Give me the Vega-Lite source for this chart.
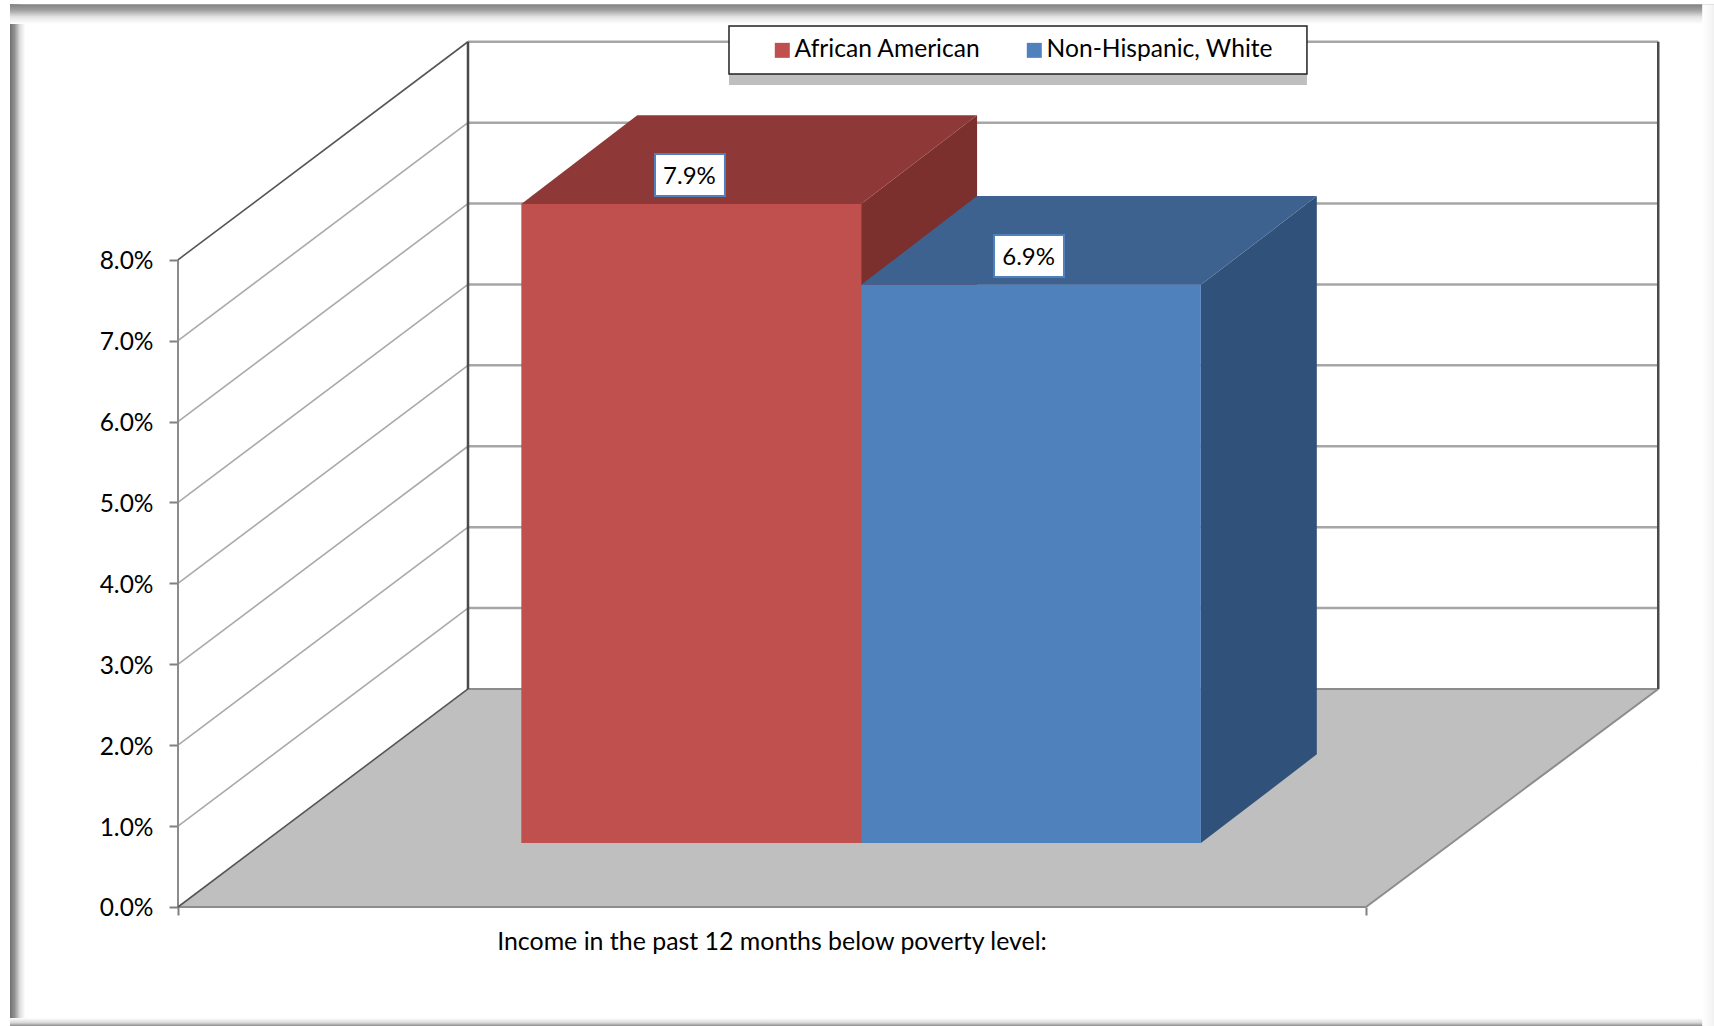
{
"$schema":"https://vega.github.io/schema/vega-lite/v6.json",
"width":1714,"height":1026,"padding":0,"autosize":"none","background":"white",
"config":{"view":{"stroke":null},"font":"Lato",
"legend":{"title":null,"orient":"none","legendX":770,"legendY":38,"direction":"horizontal","columns":2,"columnPadding":41,"symbolType":"square","symbolSize":225,"symbolStrokeWidth":0,"labelFont":"Lato","labelFontSize":24.6,"labelColor":"#000000","labelOffset":0,"labelLimit":400,"padding":0,"zindex":1}},
"datasets":{
"frame":[
{"side":"left","x":-14.14,"x2":-12.85,"y":11.16,"y2":-1.471},
{"side":"top","x":-14.14,"x2":129.293,"y":11.16,"y2":10.915},
{"side":"bottom","x":-14.14,"x2":129.293,"y":-1.372,"y2":-1.471},
{"side":"right","x":128.3,"x2":129.293,"y":11.16,"y2":-1.471}
],
"lines":[
{"kind":"back","x":24.41,"x2":124.6,"y":3.695,"y2":3.695},
{"kind":"back","x":24.41,"x2":124.6,"y":4.695,"y2":4.695},
{"kind":"back","x":24.41,"x2":124.6,"y":5.695,"y2":5.695},
{"kind":"back","x":24.41,"x2":124.6,"y":6.695,"y2":6.695},
{"kind":"back","x":24.41,"x2":124.6,"y":7.695,"y2":7.695},
{"kind":"back","x":24.41,"x2":124.6,"y":8.695,"y2":8.695},
{"kind":"back","x":24.41,"x2":124.6,"y":9.695,"y2":9.695},
{"kind":"back","x":24.41,"x2":124.6,"y":10.695,"y2":10.695},
{"kind":"side","x":0,"x2":24.41,"y":1,"y2":3.695},
{"kind":"side","x":0,"x2":24.41,"y":2,"y2":4.695},
{"kind":"side","x":0,"x2":24.41,"y":3,"y2":5.695},
{"kind":"side","x":0,"x2":24.41,"y":4,"y2":6.695},
{"kind":"side","x":0,"x2":24.41,"y":5,"y2":7.695},
{"kind":"side","x":0,"x2":24.41,"y":6,"y2":8.695},
{"kind":"side","x":0,"x2":24.41,"y":7,"y2":9.695},
{"kind":"axis","x":0,"x2":0,"y":0,"y2":8},
{"kind":"edge","x":0,"x2":100,"y":0,"y2":0},
{"kind":"edge","x":100,"x2":124.6,"y":0,"y2":2.695},
{"kind":"edge","x":24.41,"x2":124.6,"y":2.695,"y2":2.695},
{"kind":"dark","x":0,"x2":24.41,"y":0,"y2":2.695},
{"kind":"dark","x":0,"x2":24.41,"y":8,"y2":10.695},
{"kind":"wall","x":24.41,"x2":24.41,"y":2.695,"y2":10.695},
{"kind":"wall","x":124.6,"x2":124.6,"y":2.695,"y2":10.695}
],
"floor":[
{"y":0,"x":0,"x2":100},
{"y":2.695,"x":24.41,"x2":124.6}
],
"sides":[
{"face":"African American side","x":57.5,"y":0.79,"y2":8.69},
{"face":"African American side","x":67.26,"y":1.887,"y2":9.787},
{"face":"Non-Hispanic, White side","x":86.1,"y":0.79,"y2":7.69},
{"face":"Non-Hispanic, White side","x":95.86,"y":1.887,"y2":8.787}
],
"tops":[
{"face":"African American top","y":8.69,"x":28.9,"x2":57.5},
{"face":"African American top","y":9.787,"x":38.66,"x2":67.26},
{"face":"Non-Hispanic, White top","y":7.69,"x":57.5,"x2":86.1},
{"face":"Non-Hispanic, White top","y":8.787,"x":67.26,"x2":95.86}
],
"fronts":[
{"face":"African American","x":28.9,"x2":57.5,"y":0.79,"y2":8.69},
{"face":"Non-Hispanic, White","x":57.5,"x2":86.1,"y":0.79,"y2":7.69}
],
"labels":[
{"label":"7.9%","x":43.05,"y":9.025,"bx":40.15,"bx2":46.04,"by":9.308,"by2":8.789},
{"label":"6.9%","x":71.6,"y":8.025,"bx":68.69,"bx2":74.58,"by":8.306,"by2":7.787}
],
"legendBox":[
{"part":"shadow","x":46.38,"x2":95.03,"y":10.84,"y2":10.16},
{"part":"box","x":46.38,"x2":95.03,"y":10.89,"y2":10.297}
]
},
"encoding":{
"x":{"field":"x","type":"quantitative","scale":{"domain":[-14.983,129.293],"nice":false,"zero":false},
"axis":{"values":[0,100],"labels":false,"domain":false,"grid":false,"offset":-119,"tickSize":8,"tickColor":"#808080","tickWidth":2,"title":"Income in the past 12 months below poverty level:","titleFont":"Lato","titleFontSize":24.9,"titleFontWeight":"normal","titleColor":"#000000","titleX":771.5,"titleY":35,"titleBaseline":"middle","titleAlign":"center"}},
"y":{"field":"y","type":"quantitative","scale":{"domain":[-1.471,11.211],"nice":false,"zero":false},
"axis":{"values":[0,1,2,3,4,5,6,7,8],"labelExpr":"format(datum.value,'.1f')+'%'","domain":false,"grid":false,"offset":-178,"tickSize":9,"tickColor":"#808080","tickWidth":2,"labelFont":"Lato","labelFontSize":24.5,"labelColor":"#000000","labelPadding":16,"labelOffset":2,"title":null}}
},
"layer":[
{"data":{"name":"frame"},"transform":[{"filter":"datum.side==='left'"}],"mark":{"type":"rect","color":{"gradient":"linear","x1":0,"y1":0,"x2":1,"y2":0,"stops":[{"offset":0,"color":"#707070"},{"offset":0.3,"color":"#929292"},{"offset":0.65,"color":"#dedede"},{"offset":1,"color":"#ffffff"}]}},"encoding":{"x2":{"field":"x2"},"y2":{"field":"y2"}}},
{"data":{"name":"frame"},"transform":[{"filter":"datum.side==='top'"}],"mark":{"type":"rect","color":{"gradient":"linear","x1":0,"y1":0,"x2":0,"y2":1,"stops":[{"offset":0,"color":"#808080"},{"offset":0.3,"color":"#a0a0a0"},{"offset":0.65,"color":"#e4e4e4"},{"offset":1,"color":"#ffffff"}]}},"encoding":{"x2":{"field":"x2"},"y2":{"field":"y2"}}},
{"data":{"name":"frame"},"transform":[{"filter":"datum.side==='bottom'"}],"mark":{"type":"rect","color":{"gradient":"linear","x1":0,"y1":0,"x2":0,"y2":1,"stops":[{"offset":0,"color":"#ffffff"},{"offset":0.6,"color":"#d8d8d8"},{"offset":1,"color":"#8c8c8c"}]}},"encoding":{"x2":{"field":"x2"},"y2":{"field":"y2"}}},
{"data":{"name":"frame"},"transform":[{"filter":"datum.side==='right'"}],"mark":{"type":"rect","color":{"gradient":"linear","x1":0,"y1":0,"x2":1,"y2":0,"stops":[{"offset":0,"color":"#ffffff"},{"offset":1,"color":"#f2f2f2"}]}},"encoding":{"x2":{"field":"x2"},"y2":{"field":"y2"}}},
{"data":{"name":"floor"},"mark":{"type":"area","orient":"horizontal","color":"#bfbfbf"},"encoding":{"x":{"field":"x","type":"quantitative","stack":null},"x2":{"field":"x2"},"y":{"field":"y","type":"quantitative"}}},
{"data":{"name":"lines"},"transform":[{"filter":"datum.kind==='back'"}],"mark":{"type":"rule","color":"#a6a6a6","strokeWidth":2.5},"encoding":{"x2":{"field":"x2"},"y2":{"field":"y2"}}},
{"data":{"name":"lines"},"transform":[{"filter":"datum.kind==='side'"}],"mark":{"type":"rule","color":"#a9a9a9","strokeWidth":1.6},"encoding":{"x2":{"field":"x2"},"y2":{"field":"y2"}}},
{"data":{"name":"lines"},"transform":[{"filter":"datum.kind==='axis'||datum.kind==='edge'"}],"mark":{"type":"rule","color":"#8c8c8c","strokeWidth":2},"encoding":{"x2":{"field":"x2"},"y2":{"field":"y2"}}},
{"data":{"name":"lines"},"transform":[{"filter":"datum.kind==='dark'"}],"mark":{"type":"rule","color":"#555555","strokeWidth":1.6},"encoding":{"x2":{"field":"x2"},"y2":{"field":"y2"}}},
{"data":{"name":"lines"},"transform":[{"filter":"datum.kind==='wall'"}],"mark":{"type":"rule","color":"#4a4a4a","strokeWidth":2.5},"encoding":{"x2":{"field":"x2"},"y2":{"field":"y2"}}},
{"data":{"name":"legendBox"},"transform":[{"filter":"datum.part==='shadow'"}],"mark":{"type":"rect","color":"#bfbfbf"},"encoding":{"x2":{"field":"x2"},"y2":{"field":"y2"}}},
{"data":{"name":"legendBox"},"transform":[{"filter":"datum.part==='box'"}],"mark":{"type":"rect","fill":"#ffffff","stroke":"#222222","strokeWidth":1.5},"encoding":{"x2":{"field":"x2"},"y2":{"field":"y2"}}},
{"data":{"name":"sides"},"mark":{"type":"area","orient":"vertical"},"encoding":{"y":{"field":"y","type":"quantitative","stack":null},"y2":{"field":"y2"},"color":{"field":"face","type":"nominal","legend":{"values":["African American","Non-Hispanic, White"]}}}},
{"data":{"name":"tops"},"mark":{"type":"area","orient":"horizontal"},"encoding":{"x":{"field":"x","type":"quantitative","stack":null},"x2":{"field":"x2"},"color":{"field":"face","type":"nominal","legend":{"values":["African American","Non-Hispanic, White"]}}}},
{"data":{"name":"fronts"},"mark":{"type":"rect"},"encoding":{"x2":{"field":"x2"},"y2":{"field":"y2"},
"color":{"field":"face","type":"nominal","scale":{"domain":["African American","Non-Hispanic, White","African American top","Non-Hispanic, White top","African American side","Non-Hispanic, White side"],"range":["#c0504d","#4f81bd","#8e3937","#3d6290","#7b302e","#30517a"]},
"legend":{"values":["African American","Non-Hispanic, White"]}}}},
{"data":{"name":"labels"},"mark":{"type":"rect","fill":"#ffffff","stroke":"#4f81bd","strokeWidth":2},"encoding":{"x":{"field":"bx","type":"quantitative"},"x2":{"field":"bx2"},"y":{"field":"by","type":"quantitative"},"y2":{"field":"by2"}}},
{"data":{"name":"labels"},"mark":{"type":"text","font":"Lato","fontSize":24,"color":"#000000","baseline":"middle","align":"center"},"encoding":{"text":{"field":"label"}}}
]
}
